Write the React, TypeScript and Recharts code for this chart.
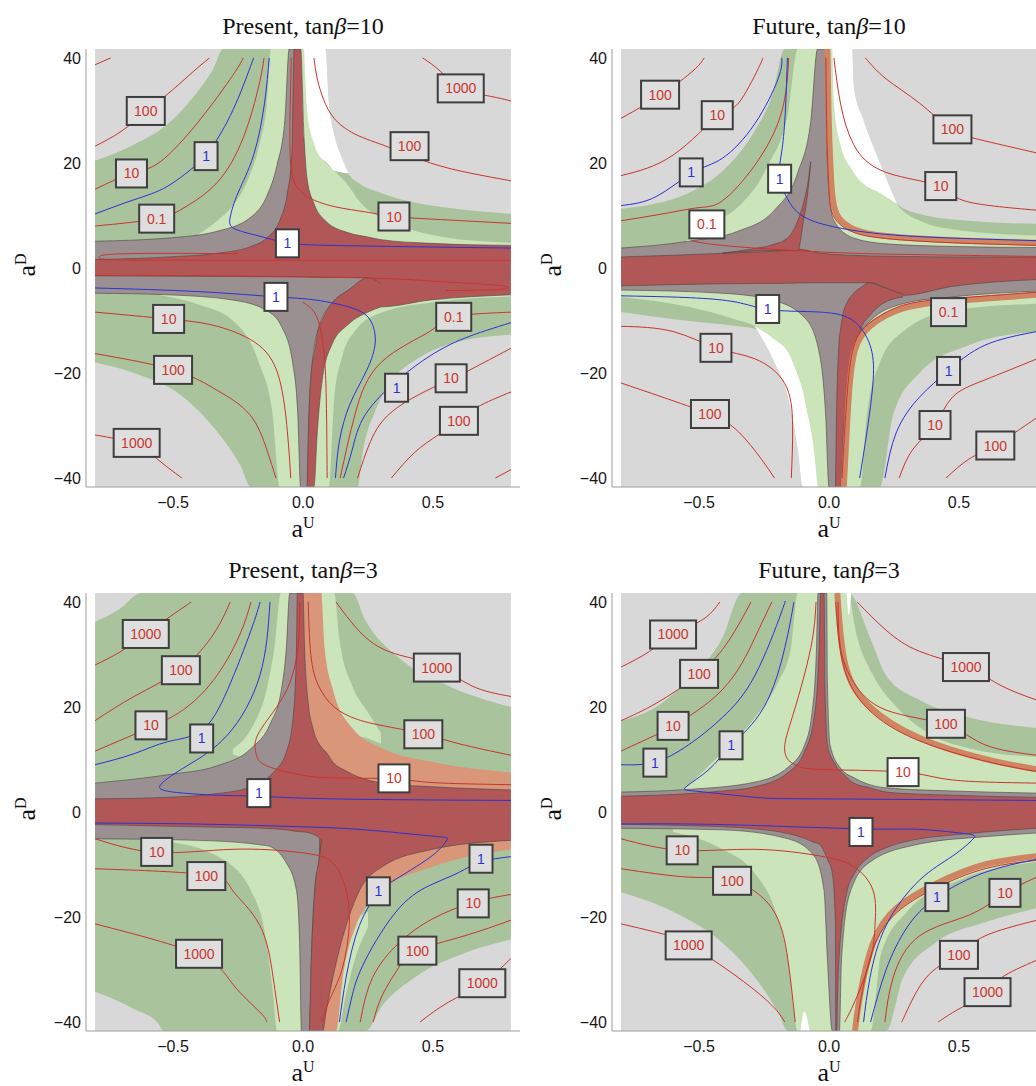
import React from 'react';
import { ComposedChart, Area, Line, Scatter, XAxis, YAxis } from 'recharts';

// rows of a filled region: [aU, lower aD, upper aD]
type Row = [number, number, number];
// contour points: [aU, aD]
type Pt = [number, number];
// contour label: [aU, aD, text, kind]  kind: r / b (grey box), rw / bw (white box)
type Lab = [number, number, string, string];

const X_MAJOR = [-0.5, 0, 0.5];
const X_MINOR = [-0.8, -0.7, -0.6, -0.5, -0.4, -0.3, -0.2, -0.1, 0, 0.1, 0.2, 0.3, 0.4, 0.5, 0.6, 0.7, 0.8];
const Y_MAJOR = [-40, -20, 0, 20, 40];
const Y_MINOR = [-40, -35, -30, -25, -20, -15, -10, -5, 0, 5, 10, 15, 20, 25, 30, 35, 40];

const BG: Row[] = [[-0.8, -41.7, 41.7], [0.8, -41.7, 41.7]];

// ---------- Present, tanβ=10 ----------
const P1_GREEN: Row[][] = [
  [[-0.8, 0, 20.4], [-0.65, 0, 23.5], [-0.52, 0, 27.4], [-0.42, 0, 32.7], [-0.345, 0, 38], [-0.307, 0, 41.7], [0.086, 0, 41.7], [0.1, 0, 31.4], [0.12, 0, 25.5], [0.15, 0, 21], [0.175, 0, 18], [0.22, 0, 16], [0.3, 0, 14.3], [0.4, 0, 12.8], [0.55, 0, 11.5], [0.8, 0, 10.3]],
  [[-0.8, -18, 0], [-0.65, -20, 0], [-0.46, -24.6, 0], [-0.33, -31.2, 0], [-0.24, -37.7, 0], [-0.2, -41.7, 0], [0.21, -41.7, 0], [0.23, -35, 0], [0.28, -27, 0], [0.35, -21, 0], [0.45, -17, 0], [0.6, -14, 0], [0.8, -12.7, 0]],
];
const P1_LIGHT: Row[][] = [
  [[-0.4, 0, 6.5], [-0.33, 0, 9], [-0.26, 0, 12.5], [-0.21, 0, 17], [-0.17, 0, 23], [-0.14, 0, 31], [-0.123, 0, 41.7], [0.004, 0, 41.7], [0.04, 0, 24], [0.08, 0, 20.5], [0.12, 0, 18.5], [0.17, 0, 16], [0.22, 0, 12.5], [0.3, 0, 9.5], [0.4, 0, 7.5], [0.55, 0, 5.8], [0.8, 0, 4.8]],
  [[-0.55, -5.2, 0], [-0.4, -7, 0], [-0.27, -10, 0], [-0.17, -18, 0], [-0.117, -27.9, 0], [-0.09, -41.7, 0], [0.1, -41.7, 0], [0.12, -25, 0], [0.15, -17, 0], [0.2, -12, 0], [0.3, -8.5, 0], [0.5, -6.5, 0], [0.8, -5.4, 0]],
];
const P1_WHITE: Row[][] = [
  [[0.004, 41.6, 41.7], [0.016, 30, 41.7], [0.04, 24, 41.7], [0.08, 20.5, 41.7], [0.086, 20.3, 41.7], [0.1, 19.6, 31.4], [0.12, 18.5, 25.5], [0.15, 18.2, 21], [0.175, 18, 18.1]],
];
const P1_GRAY: Row[][] = [
  [[-0.8, 0, 5.1], [-0.52, 0, 5.7], [-0.33, 0, 7], [-0.2, 0, 9.7], [-0.14, 0, 13.6], [-0.1, 0, 19.6], [-0.07, 0, 28.1], [-0.053, 0, 41.7], [-0.03, 0, 41.7]],
  [[-0.8, -4.8, 0], [-0.52, -5.1, 0], [-0.27, -6.1, 0], [-0.14, -8.1, 0], [-0.08, -11.4, 0], [-0.04, -18, 0], [-0.02, -27.9, 0], [-0.009, -41.7, 0], [0.016, -41.7, 0], [0.023, -27.9, 0], [0.036, -18, 0], [0.06, -11.4, 0], [0.11, -6.8, 0], [0.175, -4.2, 0], [0.25, -1.85, 0]],
];
const P1_RED: Row[][] = [
  [[-0.8, -1.5, 1.6], [-0.52, -1.55, 2.1], [-0.33, -1.6, 2.8], [-0.2, -1.65, 4.1], [-0.14, -1.65, 5.7], [-0.09, -1.7, 9], [-0.06, -1.7, 14.3], [-0.043, -1.7, 21.5], [-0.034, -1.7, 41.7], [-0.009, -1.7, 41.7], [0.004, -1.7, 24.8], [0.016, -1.75, 16.9], [0.042, -1.75, 12.3], [0.086, -1.8, 9], [0.175, -1.8, 6.7], [0.25, -1.85, 5.9], [0.3, -7.4, 5.4], [0.49, -6.1, 4.7], [0.8, -5.1, 4.3]],
  [[0.016, -41.7, -41.6], [0.023, -41.7, -27.9], [0.036, -41.7, -18], [0.042, -41.7, -16.4], [0.055, -31.2, -12.5], [0.074, -21.3, -9.8], [0.11, -14.7, -6.8], [0.175, -10.7, -4.2], [0.25, -8.4, -1.85], [0.3, -7.4, -3]],
];
const P1_RED_LINES: Pt[][] = [
  [[-0.8, 38.7], [-0.74, 40]],
  [[-0.8, 23.2], [-0.7, 26], [-0.6, 29.9], [-0.5, 34], [-0.42, 37.5], [-0.36, 40]],
  [[-0.8, 15], [-0.66, 18], [-0.55, 20.2], [-0.4, 28], [-0.27, 36.7], [-0.23, 40]],
  [[-0.8, 8], [-0.563, 9.4], [-0.45, 11.7], [-0.33, 16.3], [-0.23, 24.8], [-0.17, 34.7], [-0.15, 40]],
  [[-0.25, 2.7], [-0.55, 2.8], [-0.74, 2.6], [-0.785, 2.1], [-0.75, 1.6], [-0.5, 1.5], [0, 1.5], [0.4, 1.5], [0.8, 1.5]],
  [[-0.8, -1.4], [-0.3, -1.5], [0.25, -1.9], [0.5, -2.5], [0.7, -3.1], [0.785, -3.6], [0.75, -4.1], [0.55, -4.3]],
  [[-0.045, 40], [-0.05, 28], [-0.048, 20], [-0.03, 16], [0.02, 13.5], [0.12, 11.7], [0.25, 10.6], [0.35, 9.8], [0.5, 9.3], [0.8, 8.5]],
  [[0.042, 40], [0.055, 36], [0.08, 32], [0.12, 28.5], [0.2, 25.5], [0.33, 23], [0.49, 20], [0.65, 18], [0.8, 16.6]],
  [[0.46, 40], [0.53, 37.4], [0.607, 34.2], [0.72, 32.7], [0.8, 31.8]],
  [[-0.8, -8.4], [-0.517, -9.7], [-0.33, -11.1], [-0.17, -14.7], [-0.09, -21.3], [-0.06, -31.2], [-0.047, -40]],
  [[-0.8, -16.3], [-0.5, -19.4], [-0.33, -23.3], [-0.205, -27.9], [-0.14, -34.5], [-0.104, -40]],
  [[-0.8, -31.8], [-0.646, -33.5], [-0.56, -36.4], [-0.466, -40]],
  [[0, -6.5], [0.05, -9], [0.075, -14], [0.088, -22], [0.093, -40]],
  [[0.8, -8.4], [0.575, -9.3], [0.49, -12], [0.3, -18], [0.2, -27.9], [0.143, -40]],
  [[0.8, -15.3], [0.62, -20], [0.565, -21.3], [0.365, -26.5], [0.26, -33], [0.21, -40]],
  [[0.8, -23.6], [0.67, -26.5], [0.594, -29.2], [0.52, -31.8], [0.43, -35.1], [0.34, -40]],
  [[0.74, -40], [0.8, -38.4]],
];
const P1_BLUE_LINES: Pt[][] = [
  [[-0.8, 10.3], [-0.65, 13], [-0.52, 15.6], [-0.41, 19.6], [-0.373, 21.3], [-0.29, 28], [-0.22, 36], [-0.19, 40]],
  [[-0.13, 40], [-0.148, 31.4], [-0.19, 21.5], [-0.25, 14.3], [-0.28, 9.7], [-0.265, 7.5], [-0.17, 6.1], [-0.063, 4.8], [0.11, 4.3], [0.49, 4], [0.8, 3.8]],
  [[-0.8, -3.8], [-0.4, -4.5], [-0.104, -5.5], [0.048, -6.1], [0.2, -7.8], [0.265, -10.5], [0.277, -14.7], [0.24, -20], [0.18, -26], [0.14, -33], [0.125, -40]],
  [[0.8, -10.4], [0.62, -13.4], [0.49, -16.7], [0.365, -21.3], [0.24, -27.9], [0.19, -34.5], [0.156, -40]],
];
const P1_LABELS: Lab[] = [
  [-0.605, 29.9, '100', 'r'], [-0.66, 18, '10', 'r'], [-0.373, 21.3, '1', 'b'], [-0.563, 9.4, '0.1', 'r'],
  [-0.06, 4.7, '1', 'bw'], [0.607, 34.2, '1000', 'r'], [0.41, 23.2, '100', 'r'], [0.35, 9.8, '10', 'r'],
  [-0.104, -5.5, '1', 'bw'], [-0.517, -9.7, '10', 'r'], [-0.5, -19.4, '100', 'r'], [-0.64, -33.3, '1000', 'r'],
  [0.58, -9.3, '0.1', 'r'], [0.57, -21, '10', 'r'], [0.6, -29.1, '100', 'r'], [0.36, -22.8, '1', 'b'],
];

// ---------- Future, tanβ=10 ----------
const P2_GREEN: Row[][] = [
  [[-0.8, 0, 11.3], [-0.54, 0, 14.3], [-0.386, 0, 19.6], [-0.285, 0, 26.2], [-0.22, 0, 32.7], [-0.17, 0, 41.7], [0.089, 0, 41.7], [0.095, 0, 34.7], [0.133, 0, 28.1], [0.184, 0, 21.5], [0.26, 0, 12.3], [0.348, 0, 10.3], [0.538, 0, 9], [0.8, 0, 8.4]],
  [[-0.8, -8.4, 0], [-0.54, -10.1, 0], [-0.348, -11.1, 0], [-0.285, -11.6, 0], [-0.21, -18, 0], [-0.158, -24.6, 0], [-0.12, -34.5, 0], [-0.1, -41.7, 0], [0.196, -41.7, 0], [0.247, -27.9, 0], [0.348, -20, 0], [0.538, -14.7, 0], [0.8, -12.1, 0]],
];
const P2_LIGHT: Row[][] = [
  [[-0.55, 0, 5.2], [-0.45, 0, 8.5], [-0.348, 0, 11.7], [-0.234, 0, 19.6], [-0.158, 0, 29.5], [-0.12, 0, 41.7], [0.089, 0, 41.7], [0.095, 0, 34.7], [0.133, 0, 28.1], [0.184, 0, 21.5], [0.26, 0, 12.3], [0.35, 0, 9], [0.5, 0, 7.2], [0.8, 0, 6.2]],
  [[-0.8, -5.5, 0], [-0.54, -7.4, 0], [-0.348, -10, 0], [-0.285, -11.1, 0], [-0.21, -18, 0], [-0.158, -24.6, 0], [-0.12, -34.5, 0], [-0.1, -41.7, 0], [0.12, -41.7, 0], [0.146, -27.9, 0], [0.196, -18, 0], [0.285, -12.1, 0], [0.475, -8.1, 0], [0.8, -6.8, 0]],
];
const P2_WHITE: Row[][] = [
  [[0.013, 41.6, 41.7], [0.019, 31.4, 41.7], [0.044, 23.5, 41.7], [0.089, 18.7, 41.7], [0.095, 18.2, 34.7], [0.133, 16, 28.1], [0.184, 14.6, 21.5], [0.22, 13.5, 17], [0.26, 12.3, 12.4]],
  [[-0.285, -11.15, -11.1], [-0.21, -18, -13.6], [-0.158, -24.6, -16], [-0.12, -34.5, -20.5], [-0.1, -41.7, -23.5], [-0.09, -41.7, -26], [-0.06, -41.7, -34], [-0.044, -41.7, -41.6]],
];
const P2_GRAY: Row[][] = [
  [[-0.8, 0, 3.8], [-0.54, 0, 5.1], [-0.35, 0, 7], [-0.21, 0, 11], [-0.12, 0, 18.2], [-0.07, 0, 28], [-0.044, 0, 41.7], [-0.013, 0, 41.7], [-0.009, 0, 24.8], [0, 0, 14.3], [0.019, 0, 9], [0.095, 0, 5.7], [0.22, 0, 4.6], [0.475, 0, 4.1], [0.8, 0, 3.9]],
  [[-0.8, -4.2, 0], [-0.41, -4.8, 0], [-0.22, -6.1, 0], [-0.095, -9.4, 0], [-0.044, -14.7, 0], [-0.013, -27.9, 0], [0, -41.7, 0], [0.05, -41.7, 0], [0.07, -24.6, 0], [0.095, -14.7, 0], [0.158, -10.1, 0], [0.285, -6.8, 0], [0.475, -5.5, 0], [0.8, -4.4, 0]],
];
const P2_RED: Row[][] = [
  [[-0.8, -3.4, 2.1], [-0.41, -3, 2.8], [-0.16, -2.9, 3.4], [-0.12, -2.85, 3.6], [-0.03, -2.8, 2.8], [0.158, -2.8, 2.3], [0.285, -5.2, 2.2], [0.475, -3.5, 2.1], [0.8, -2.2, 2.1]],
  [[-0.41, 2.8, 2.85], [-0.3, 3.2, 3.6], [-0.22, 3.3, 4.4], [-0.16, 3.3, 5.7], [-0.12, 3.3, 9], [-0.1, 8.4, 12], [-0.082, 14.3, 16], [-0.07, 20.2, 20.3]],
  [[0.025, -41.7, -41.6], [0.029, -41.7, -27.9], [0.038, -41.7, -14.7], [0.045, -41.7, -11.5], [0.057, -30, -8.1], [0.063, -27.9, -7.3], [0.095, -18, -4.8], [0.12, -12, -3.8], [0.158, -9, -2.8], [0.2, -7, -3.5], [0.285, -5.5, -5]],
];
const P2_ORANGE_LINES: Pt[][] = [
  [[-0.006, 41.7], [-0.002, 30], [0.005, 20], [0.015, 13], [0.04, 9.4], [0.1, 7.3], [0.22, 6.1], [0.475, 5.3], [0.8, 4.8]],
  [[0.057, -41.7], [0.076, -24.6], [0.1, -15.6], [0.16, -11], [0.285, -7.7], [0.475, -6.3], [0.8, -5.1]],
];
const P2_RED_LINES: Pt[][] = [
  [[-0.8, 28.5], [-0.646, 32.9], [-0.576, 35.4], [-0.513, 38], [-0.48, 40]],
  [[-0.8, 17.6], [-0.6, 21.5], [-0.424, 29.1], [-0.348, 31.4], [-0.272, 38], [-0.255, 40]],
  [[-0.8, 9], [-0.64, 10.3], [-0.5, 11.5], [-0.41, 12.8], [-0.285, 19.6], [-0.184, 29.4], [-0.155, 40]],
  [[-0.53, 5.2], [-0.41, 4.3], [-0.16, 3.4], [0.1, 2.8], [0.4, 2.5], [0.8, 2.2]],
  [[0.14, 40], [0.22, 36], [0.348, 31.4], [0.47, 26.5], [0.6, 24.2], [0.8, 21.9]],
  [[0.019, 40], [0.044, 31.4], [0.095, 23.5], [0.22, 18.2], [0.43, 15.6], [0.52, 12.8], [0.8, 11]],
  [[-0.012, 40], [-0.008, 25], [0, 15], [0.01, 10.8], [0.04, 8.4], [0.1, 6.7], [0.22, 5.6], [0.475, 4.8], [0.8, 4.3]],
  [[0.05, -40], [0.069, -24.6], [0.095, -15], [0.158, -10.4], [0.285, -7.1], [0.475, -5.8], [0.8, -4.6]],
  [[-0.8, -11.1], [-0.6, -12.1], [-0.43, -15.3], [-0.285, -17.3], [-0.17, -22], [-0.14, -30], [-0.145, -40]],
  [[-0.8, -21.9], [-0.64, -24.6], [-0.456, -27.9], [-0.348, -31.2], [-0.26, -36.4], [-0.21, -40]],
  [[0.8, -17.3], [0.6, -21.3], [0.475, -24.6], [0.405, -30], [0.323, -34.5], [0.27, -40]],
  [[0.8, -28.5], [0.637, -33.8], [0.538, -36.4], [0.45, -40]],
];
const P2_BLUE_LINES: Pt[][] = [
  [[-0.8, 11.9], [-0.665, 13.6], [-0.524, 18.2], [-0.41, 20.9], [-0.285, 27.5], [-0.196, 36], [-0.182, 40]],
  [[-0.16, 40], [-0.17, 28.1], [-0.184, 21.5], [-0.19, 17.3], [-0.158, 13], [-0.095, 9.7], [0.032, 7.7], [0.22, 6.4], [0.475, 5.7], [0.8, 5.2]],
  [[-0.8, -5.3], [-0.41, -6.1], [-0.234, -7.9], [-0.032, -8.4], [0.095, -10.1], [0.158, -14.7], [0.17, -21.3], [0.146, -31.2], [0.118, -40]],
  [[0.8, -12.1], [0.6, -14.7], [0.46, -19.5], [0.348, -24.6], [0.26, -31.2], [0.215, -40]],
];
const P2_LABELS: Lab[] = [
  [-0.65, 33, '100', 'r'], [-0.43, 29.1, '10', 'r'], [-0.53, 18.2, '1', 'b'], [-0.47, 8.3, '0.1', 'rw'],
  [-0.19, 17, '1', 'bw'], [0.475, 26.4, '100', 'r'], [0.43, 15.6, '10', 'r'], [-0.236, -7.8, '1', 'bw'],
  [-0.435, -15.2, '10', 'r'], [-0.458, -27.8, '100', 'r'], [0.46, -8.4, '0.1', 'r'], [0.46, -19.6, '1', 'b'],
  [0.408, -29.9, '10', 'r'], [0.64, -33.8, '100', 'r'],
];

// ---------- Present, tanβ=3 ----------
const P3_GREEN: Row[][] = [
  [[-0.8, 0, 36.2], [-0.71, 0, 38.5], [-0.62, 0, 41.7], [0.19, 0, 41.7], [0.24, 0, 36.5], [0.37, 0, 29.3], [0.56, 0, 24], [0.8, 0, 20]],
  [[-0.8, -34.2, 0], [-0.65, -37.5, 0], [-0.56, -40.1, 0], [-0.535, -41.7, 0], [0.24, -41.7, 0], [0.306, -36.8, 0], [0.43, -31.5, 0], [0.62, -26.9, 0], [0.8, -24.3, 0]],
];
const P3_LIGHT: Row[][] = [
  [[-0.27, 11, 12], [-0.19, 9.5, 16.7], [-0.14, 8, 23.3], [-0.11, 7, 31.3], [-0.085, 6, 41.7], [-0.04, 5, 41.7]],
  [[0.07, 31, 41.7], [0.083, 26, 41.7], [0.1, 22, 41.7], [0.12, 19, 41.7], [0.14, 17.5, 33], [0.19, 15, 24], [0.25, 14, 19], [0.3, 13, 15]],
  [[-0.6, -5.1, -5], [-0.52, -5.6, 0], [-0.33, -8.4, 0], [-0.2, -15, 0], [-0.14, -24.9, 0], [-0.115, -34.8, 0], [-0.1, -41.7, 0], [-0.006, -41.7, 0]],
  [[0.11, -41.7, -34], [0.135, -41.7, -30], [0.16, -36, -25], [0.2, -28, -21], [0.25, -22, -19]],
];
const P3_ORANGE: Row[][] = [
  [[-0.01, 0, 41.7], [0.07, 0, 41.7], [0.083, 0, 31.3], [0.115, 0, 23.3], [0.19, 0, 16], [0.306, 0, 12.1], [0.5, 0, 9.5], [0.8, 0, 7.5]],
  [[0.05, -41.7, 0], [0.127, -41.7, 0], [0.153, -31.5, 0], [0.204, -21.6, 0], [0.306, -15, 0], [0.5, -10.4, 0], [0.8, -7.1, 0]],
];
const P3_GRAY: Row[][] = [
  [[-0.8, 0, 5.5], [-0.52, 0, 7.1], [-0.33, 0, 8.8], [-0.2, 0, 12.1], [-0.127, 0, 16.7], [-0.083, 0, 23.3], [-0.064, 0, 31.3], [-0.051, 0, 41.7], [-0.022, 0, 41.7]],
  [[-0.8, -5.1, 0], [-0.4, -5.4, 0], [-0.14, -6.4, 0], [-0.064, -9.7, 0], [-0.025, -15, 0], [-0.013, -24.9, 0], [-0.006, -41.7, 0], [0.025, -41.7, 0], [0.032, -28.2, 0], [0.045, -15, 0], [0.062, -8.6, 0], [0.068, -4, 0]],
];
const P3_RED: Row[][] = [
  [[-0.8, -2.4, 2.5], [-0.52, -2.7, 2.8], [-0.33, -2.9, 3.5], [-0.2, -3, 4.8], [-0.115, -3.2, 7.5], [-0.064, -3.4, 11.4], [-0.038, -3.6, 18], [-0.025, -3.7, 31.3], [-0.022, -3.7, 41.7], [0, -3.8, 41.7], [0.006, -3.8, 31.3], [0.019, -3.9, 21.3], [0.038, -4.2, 16], [0.064, -5, 12.8], [0.07, -38, 12.4], [0.076, -41.7, 12], [0.089, -38, 11.4], [0.115, -31.5, 9.5], [0.166, -21.6, 7.8], [0.217, -15, 6.6], [0.306, -10.4, 5.5], [0.5, -7.1, 4.8], [0.8, -5.4, 4.2]],
  [[0.025, -41.7, -41.6], [0.032, -41.7, -28.2], [0.045, -41.7, -15], [0.064, -41.7, -8.4], [0.072, -41.7, -5]],
];
const P3_RED_LINES: Pt[][] = [
  [[-0.8, 28], [-0.7, 30.6], [-0.6, 34.1], [-0.5, 37.6], [-0.43, 40]],
  [[-0.8, 17.4], [-0.65, 22], [-0.47, 27.2], [-0.344, 33.9], [-0.28, 40]],
  [[-0.8, 11.6], [-0.58, 16.3], [-0.446, 20], [-0.331, 26], [-0.242, 33.9], [-0.2, 40]],
  [[-0.012, 40], [-0.02, 31], [-0.06, 23.5], [-0.13, 18], [-0.18, 14], [-0.18, 11], [-0.14, 8.8], [-0.013, 7.1], [0.115, 6.5], [0.344, 6.3], [0.5, 5.6], [0.8, 5.2]],
  [[0.127, 40], [0.242, 33.2], [0.37, 29.9], [0.516, 27.8], [0.65, 24], [0.8, 22]],
  [[0.02, 40], [0.03, 30], [0.06, 24], [0.12, 20], [0.2, 17.8], [0.3, 16.5], [0.46, 14.9], [0.6, 13], [0.8, 10.8]],
  [[-0.8, -5.1], [-0.56, -7.7], [-0.27, -7.1], [-0.013, -7.7], [0.115, -9.7], [0.166, -15], [0.178, -21.6], [0.15, -30], [0.1, -36], [0.075, -40]],
  [[-0.8, -10.8], [-0.37, -12], [-0.27, -15], [-0.166, -21.6], [-0.115, -31.5], [-0.09, -40]],
  [[-0.8, -21.3], [-0.4, -27.2], [-0.27, -32.8], [-0.166, -38.1], [-0.14, -40]],
  [[0.8, -15.7], [0.656, -17.2], [0.5, -20.3], [0.37, -24.9], [0.268, -31.5], [0.22, -40]],
  [[0.8, -20.6], [0.62, -23.6], [0.44, -26.3], [0.37, -29.5], [0.306, -34.8], [0.27, -40]],
  [[0.8, -27.9], [0.69, -32.6], [0.56, -36.2], [0.45, -40]],
];
const P3_BLUE_LINES: Pt[][] = [
  [[-0.8, 9], [-0.65, 11.1], [-0.52, 13.4], [-0.39, 15.5], [-0.29, 23.3], [-0.2, 34.6], [-0.165, 40]],
  [[-0.127, 40], [-0.166, 26], [-0.29, 14.7], [-0.446, 8.8], [-0.548, 5.2], [-0.5, 3.8], [-0.33, 3.2], [-0.17, 3], [0.115, 2.5], [0.8, 2.2]],
  [[-0.8, -2.1], [-0.4, -2.3], [-0.013, -2.8], [0.24, -3.4], [0.5, -4.6], [0.554, -5.3], [0.5, -8.2], [0.37, -12.4], [0.293, -15.3], [0.217, -21.6], [0.166, -31.5], [0.14, -40]],
  [[0.8, -8.5], [0.685, -9.5], [0.6, -11.5], [0.5, -13.7], [0.37, -18.3], [0.24, -28.2], [0.19, -34.8], [0.166, -40]],
];
const P3_LABELS: Lab[] = [
  [-0.605, 33.9, '1000', 'r'], [-0.47, 27, '100', 'r'], [-0.585, 16.5, '10', 'r'], [-0.39, 14, '1', 'b'],
  [-0.17, 3.6, '1', 'bw'], [0.515, 27.5, '1000', 'r'], [0.463, 14.8, '100', 'r'], [0.35, 6.4, '10', 'rw'],
  [-0.563, -7.6, '10', 'r'], [-0.372, -12.2, '100', 'r'], [-0.4, -27, '1000', 'r'], [0.685, -8.9, '1', 'b'],
  [0.29, -15.1, '1', 'b'], [0.655, -17.4, '10', 'r'], [0.44, -26.4, '100', 'r'], [0.69, -32.6, '1000', 'r'],
];

// ---------- Future, tanβ=3 ----------
const P4_GREEN: Row[][] = [
  [[-0.8, 0, 17.4], [-0.665, 0, 20], [-0.54, 0, 25.3], [-0.41, 0, 33.2], [-0.335, 0, 41.7], [0.076, 0, 41.7], [0.158, 0, 33.2], [0.22, 0, 26], [0.35, 0, 21.3], [0.54, 0, 18], [0.8, 0, 16]],
  [[-0.8, -15.3, 0], [-0.6, -19, 0], [-0.41, -24.9, 0], [-0.285, -31.5, 0], [-0.196, -38.1, 0], [-0.158, -41.7, 0], [0.22, -41.7, 0], [0.285, -31.5, 0], [0.41, -24.9, 0], [0.6, -21, 0], [0.8, -18.3, 0]],
];
const P4_LIGHT: Row[][] = [
  [[-0.55, 0, 4.6], [-0.41, 0, 11.4], [-0.285, 0, 18], [-0.196, 0, 24.7], [-0.146, 0, 31.3], [-0.12, 0, 41.7], [0.07, 0, 41.7], [0.11, 0, 33], [0.17, 0, 26], [0.26, 0, 20], [0.4, 0, 14.5], [0.55, 0, 12], [0.8, 0, 10.5]],
  [[-0.6, -3.8, 0], [-0.41, -7.1, 0], [-0.285, -11.7, 0], [-0.21, -18.3, 0], [-0.158, -28.2, 0], [-0.12, -41.7, 0], [0.16, -41.7, 0], [0.2, -27, 0], [0.3, -19, 0], [0.5, -13, 0], [0.8, -9.5, 0]],
];
const P4_WHITE: Row[][] = [
  [[0.068, 41.6, 41.7], [0.076, 37.5, 41.7], [0.085, 41.6, 41.7]],
  [[-0.11, -41.7, -41.6], [-0.095, -41.7, -38], [-0.075, -41.7, -41.6]],
];
const P4_GRAY: Row[][] = [
  [[-0.8, 0, 3.8], [-0.54, 0, 4.3], [-0.285, 0, 5.7], [-0.158, 0, 8.5], [-0.095, 0, 12.6], [-0.065, 0, 19], [-0.048, 0, 31.3], [-0.042, 0, 41.7], [-0.009, 0, 41.7], [-0.006, 0, 24.7], [0.004, 0, 12.8], [0.042, 0, 8.5], [0.105, 0, 6.3], [0.22, 0, 4.6], [0.475, 0, 4], [0.8, 0, 3.6]],
  [[-0.8, -3.1, 0], [-0.41, -3.4, 0], [-0.158, -5.1, 0], [-0.057, -8.4, 0], [-0.019, -15, 0], [-0.006, -28.2, 0], [0.013, -41.7, 0], [0.04, -41.7, 0], [0.048, -28.2, 0], [0.08, -15.5, 0], [0.158, -9.5, 0], [0.348, -6.1, 0], [0.6, -4.7, 0], [0.8, -4, 0]],
];
const P4_RED: Row[][] = [
  [[-0.8, -2.3, 3], [-0.54, -2.6, 3.5], [-0.41, -2.8, 4], [-0.285, -3.2, 4.8], [-0.158, -4.1, 7.5], [-0.095, -5, 11.4], [-0.057, -5.8, 18], [-0.038, -6.1, 31.3], [-0.032, -6.4, 41.7], [-0.019, -7.5, 41.7], [-0.016, -7.8, 24.7], [-0.006, -9, 12.8], [0.013, -11.7, 10], [0.025, -21.6, 9], [0.026, -41.7, 8.9], [0.03, -41.7, 8.5], [0.033, -35, 8.3], [0.038, -28.2, 8.1], [0.07, -15, 6.5], [0.095, -12, 5.5], [0.158, -8.4, 4.6], [0.22, -6.8, 3.8], [0.348, -5.1, 3.4], [0.475, -4.4, 3.2], [0.6, -3.8, 3], [0.8, -3.1, 2.8]],
];
const P4_ORANGE_LINES: Pt[][] = [
  [[0.032, 41.7], [0.063, 28], [0.158, 20], [0.348, 14.1], [0.6, 10.1], [0.8, 8.1]],
  [[0.8, -8.4], [0.6, -10], [0.41, -13.7], [0.26, -18.3], [0.17, -24.9], [0.12, -34.8], [0.1, -41.7]],
];
const P4_RED_LINES: Pt[][] = [
  [[-0.8, 27.6], [-0.69, 30.6], [-0.6, 33.8], [-0.487, 36.6], [-0.42, 40]],
  [[-0.8, 17.4], [-0.665, 20.7], [-0.5, 26.3], [-0.386, 32.6], [-0.3, 40]],
  [[-0.8, 11.6], [-0.665, 14.7], [-0.6, 16.4], [-0.41, 23.3], [-0.285, 33.2], [-0.22, 40]],
  [[-0.05, 40], [-0.07, 31.3], [-0.133, 19.4], [-0.17, 12.8], [-0.155, 9.8], [-0.12, 8.8], [-0.032, 8.1], [0.285, 7.6], [0.475, 6.1], [0.8, 5.5]],
  [[0.108, 40], [0.22, 34.6], [0.348, 30.6], [0.527, 27.6], [0.665, 24], [0.8, 21.3]],
  [[0.035, 40], [0.044, 31.3], [0.095, 24.7], [0.22, 19.4], [0.45, 16.6], [0.6, 12.8], [0.8, 10.8]],
  [[0.026, 40], [0.055, 28], [0.15, 19.6], [0.34, 13.7], [0.6, 9.7], [0.8, 7.7]],
  [[-0.8, -5.1], [-0.565, -7.3], [-0.285, -7.1], [-0.032, -8.4], [0.095, -10.4], [0.17, -15], [0.177, -21.6], [0.16, -28], [0.1, -36], [0.06, -40]],
  [[-0.8, -10.8], [-0.54, -12.4], [-0.373, -13], [-0.22, -18.3], [-0.158, -28.2], [-0.13, -40]],
  [[-0.8, -21.3], [-0.665, -22.9], [-0.54, -25.3], [-0.35, -31.5], [-0.22, -36.8], [-0.17, -40]],
  [[0.8, -12.4], [0.677, -15.5], [0.54, -19.6], [0.348, -23.6], [0.247, -31.5], [0.215, -40]],
  [[0.8, -20.6], [0.6, -23.6], [0.5, -27], [0.386, -30.9], [0.31, -36.8], [0.28, -40]],
  [[0.8, -28.2], [0.665, -31.5], [0.61, -34.3], [0.5, -37.5], [0.42, -40]],
  [[0.8, -9.2], [0.6, -10.8], [0.41, -14.5], [0.26, -19.2], [0.17, -26], [0.125, -35], [0.11, -40]],
];
const P4_BLUE_LINES: Pt[][] = [
  [[-0.8, 9], [-0.67, 9.5], [-0.54, 12.8], [-0.41, 18], [-0.285, 26], [-0.184, 37.9], [-0.17, 40]],
  [[-0.135, 40], [-0.17, 31.3], [-0.25, 20], [-0.377, 12.6], [-0.462, 8.1], [-0.55, 4.8], [-0.5, 3.9], [-0.285, 2.8], [-0.032, 2.5], [0.8, 2.2]],
  [[-0.8, -2.3], [-0.41, -2.4], [0.123, -3.2], [0.348, -3.3], [0.52, -4.1], [0.555, -5.1], [0.475, -8.4], [0.348, -13], [0.22, -21.6], [0.158, -31.5], [0.133, -40]],
  [[0.8, -9], [0.6, -11.5], [0.415, -16.2], [0.3, -22], [0.22, -30], [0.16, -40]],
];
const P4_LABELS: Lab[] = [
  [-0.6, 33.8, '1000', 'r'], [-0.5, 26.3, '100', 'r'], [-0.6, 16.4, '10', 'r'], [-0.67, 9.4, '1', 'b'],
  [-0.377, 12.7, '1', 'b'], [0.527, 27.6, '1000', 'r'], [0.45, 16.8, '100', 'r'], [0.285, 7.6, '10', 'rw'],
  [-0.565, -7.3, '10', 'r'], [0.123, -3.8, '1', 'bw'], [-0.373, -13.1, '100', 'r'], [0.415, -16.2, '1', 'b'],
  [0.677, -15.4, '10', 'r'], [-0.54, -25.4, '1000', 'r'], [0.5, -27.2, '100', 'r'], [0.61, -34.3, '1000', 'r'],
];

const COL = {
  bg: '#d8d8d8', green: '#a9c39c', light: '#cbe4b9', white: '#ffffff', orange: '#d99678',
  gray: '#9a9091', red: '#b25757', line: '#c8352c', blue: '#2a32d6', band: '#cf8462', frame: '#9c9c9c',
  edge: '#4d4343',
};

interface PanelSpec {
  when: string; tan: string; left: number; top: number;
  green: Row[][]; light: Row[][]; white: Row[][]; orange: Row[][]; gray: Row[][]; red: Row[][];
  orangeLines: Pt[][]; redLines: Pt[][]; blueLines: Pt[][]; labels: Lab[];
}

const PANELS: PanelSpec[] = [
  { when: 'Present', tan: '10', left: 0, top: 0, green: P1_GREEN, light: P1_LIGHT, white: P1_WHITE, orange: [], gray: P1_GRAY, red: P1_RED, orangeLines: [], redLines: P1_RED_LINES, blueLines: P1_BLUE_LINES, labels: P1_LABELS },
  { when: 'Future', tan: '10', left: 526, top: 0, green: P2_GREEN, light: P2_LIGHT, white: P2_WHITE, orange: [], gray: P2_GRAY, red: P2_RED, orangeLines: P2_ORANGE_LINES, redLines: P2_RED_LINES, blueLines: P2_BLUE_LINES, labels: P2_LABELS },
  { when: 'Present', tan: '3', left: 0, top: 544, green: P3_GREEN, light: P3_LIGHT, white: [], orange: P3_ORANGE, gray: P3_GRAY, red: P3_RED, orangeLines: [], redLines: P3_RED_LINES, blueLines: P3_BLUE_LINES, labels: P3_LABELS },
  { when: 'Future', tan: '3', left: 526, top: 544, green: P4_GREEN, light: P4_LIGHT, white: P4_WHITE, orange: [], gray: P4_GRAY, red: P4_RED, orangeLines: P4_ORANGE_LINES, redLines: P4_RED_LINES, blueLines: P4_BLUE_LINES, labels: P4_LABELS },
];

const XD: [number, number] = [-0.835, 0.835];
const YD: [number, number] = [-41.7, 41.7];
const SANS = 'Liberation Sans, Arial, Helvetica, sans-serif';
const SERIF = 'Liberation Serif, Times New Roman, serif';

const fmtX = (v: number) => (v < 0 ? '\u2212' : '') + Math.abs(v).toFixed(1);
const fmtY = (v: number) => (v < 0 ? '\u2212' : '') + Math.abs(v);

function LabelBox(props: any) {
  const { cx, cy, payload } = props;
  if (cx == null || cy == null || !payload) return null;
  const t: string = payload.t;
  const digits = t.replace('.', '').length;
  const w = Math.round(digits * 7.8 + (t.includes('.') ? 3.9 : 0) + 15);
  const isBlue = payload.k[0] === 'b';
  const isWhite = payload.k.length > 1;
  return (
    <g>
      <rect x={cx - w / 2} y={cy - 14} width={w} height={28} fill={isWhite ? '#ffffff' : '#dedede'} stroke="#3e3e3e" strokeWidth={2} />
      <text x={cx} y={cy + 5} textAnchor="middle" fontSize={14} fontFamily={SANS} fill={isBlue ? COL.blue : COL.line}>{t}</text>
    </g>
  );
}

function areas(groups: Row[][], fill: string, key: string, edge?: string) {
  return groups.map((rows, i) => (
    <Area
      key={key + i}
      data={rows.map(([x, lo, hi]) => ({ x, r: [lo, hi] }))}
      dataKey="r"
      type="monotone"
      fill={fill}
      fillOpacity={1}
      stroke={edge || 'none'}
      strokeWidth={edge ? 0.8 : 0}
      strokeOpacity={0.75}
      dot={false}
      activeDot={false}
      isAnimationActive={false}
    />
  ));
}

function lines(groups: Pt[][], stroke: string, width: number, key: string) {
  return groups.map((pts, i) => (
    <Line
      key={key + i}
      data={pts.map(([x, y]) => ({ x, y }))}
      dataKey="y"
      type="natural"
      stroke={stroke}
      strokeWidth={width}
      dot={false}
      activeDot={false}
      isAnimationActive={false}
    />
  ));
}

function Panel({ p }: { p: PanelSpec }) {
  const tickStyle = { fontSize: 16, fill: '#161616', fontFamily: SANS };
  return (
    <div style={{ position: 'absolute', left: p.left, top: p.top, width: 526, height: 544 }}>
      <div style={{ position: 'absolute', left: 123, top: 12, width: 360, textAlign: 'center', fontFamily: SERIF, fontSize: 24, lineHeight: '28px', color: '#111' }}>
        {p.when}, tan<i>β</i>={p.tan}
      </div>
      <div style={{ position: 'absolute', left: 2, top: 250, width: 50, height: 30, textAlign: 'center', transform: 'rotate(-90deg)', fontFamily: SERIF, fontSize: 26, color: '#111', lineHeight: '30px' }}>
        a<sup style={{ fontSize: 16, verticalAlign: '0.55em', lineHeight: 0 }}>D</sup>
      </div>
      <div style={{ position: 'absolute', left: 268, top: 516, width: 70, height: 26, textAlign: 'center', fontFamily: SERIF, fontSize: 26, color: '#111', lineHeight: '26px' }}>
        a<sup style={{ fontSize: 16, verticalAlign: '0.55em', lineHeight: 0 }}>U</sup>
      </div>
      <ComposedChart width={526} height={544} margin={{ top: 49, right: 6, left: 26, bottom: 27 }}>
        <XAxis dataKey="x" type="number" domain={XD} allowDataOverflow ticks={X_MAJOR} tickFormatter={fmtX}
          tickLine={false} tickSize={0} tickMargin={10} axisLine={{ stroke: COL.frame }} tick={tickStyle} height={30} />
        <XAxis xAxisId="bm" type="number" domain={XD} allowDataOverflow ticks={X_MINOR} orientation="bottom" mirror
          tick={false} tickSize={3} axisLine={false} tickLine={{ stroke: COL.frame }} height={0} />
        <XAxis xAxisId="bM" type="number" domain={XD} allowDataOverflow ticks={X_MAJOR} orientation="bottom" mirror
          tick={false} tickSize={6} axisLine={false} tickLine={{ stroke: COL.frame }} height={0} />
        <XAxis xAxisId="tm" type="number" domain={XD} allowDataOverflow ticks={X_MINOR} orientation="top" mirror
          tick={false} tickSize={3} axisLine={{ stroke: COL.frame }} tickLine={{ stroke: COL.frame }} height={0} />
        <XAxis xAxisId="tM" type="number" domain={XD} allowDataOverflow ticks={X_MAJOR} orientation="top" mirror
          tick={false} tickSize={6} axisLine={false} tickLine={{ stroke: COL.frame }} height={0} />
        <YAxis type="number" domain={YD} allowDataOverflow ticks={Y_MAJOR} tickFormatter={fmtY}
          tickLine={false} tickSize={0} tickMargin={5} axisLine={{ stroke: COL.frame }} tick={tickStyle} width={60} />
        <YAxis yAxisId="lm" type="number" domain={YD} allowDataOverflow ticks={Y_MINOR} orientation="left" mirror
          tick={false} tickSize={3} axisLine={false} tickLine={{ stroke: COL.frame }} width={0} />
        <YAxis yAxisId="lM" type="number" domain={YD} allowDataOverflow ticks={Y_MAJOR} orientation="left" mirror
          tick={false} tickSize={6} axisLine={false} tickLine={{ stroke: COL.frame }} width={0} />
        <YAxis yAxisId="rm" type="number" domain={YD} allowDataOverflow ticks={Y_MINOR} orientation="right" mirror
          tick={false} tickSize={3} axisLine={{ stroke: COL.frame }} tickLine={{ stroke: COL.frame }} width={0} />
        <YAxis yAxisId="rM" type="number" domain={YD} allowDataOverflow ticks={Y_MAJOR} orientation="right" mirror
          tick={false} tickSize={6} axisLine={false} tickLine={{ stroke: COL.frame }} width={0} />

        {areas([BG], COL.bg, 'bg')}
        {areas(p.green, COL.green, 'g')}
        {areas(p.light, COL.light, 'l')}
        {areas(p.white, COL.white, 'w')}
        {areas(p.orange, COL.orange, 'o')}
        {areas(p.gray, COL.gray, 'gr', COL.edge)}
        {areas(p.red, COL.red, 'rd', COL.edge)}
        {lines(p.orangeLines, COL.band, 6, 'ob')}
        {lines(p.redLines, COL.line, 1, 'rl')}
        {lines(p.blueLines, COL.blue, 1, 'bl')}
        <Scatter
          data={p.labels.map(([x, y, t, k]) => ({ x, y, t, k }))}
          dataKey="y"
          shape={LabelBox}
          isAnimationActive={false}
        />
      </ComposedChart>
    </div>
  );
}

export default function App() {
  return (
    <div style={{ position: 'absolute', left: 0, top: 0, width: 1036, height: 1086, overflow: 'hidden', background: '#fff' }}>
      {PANELS.map((p, i) => (
        <Panel key={i} p={p} />
      ))}
    </div>
  );
}
